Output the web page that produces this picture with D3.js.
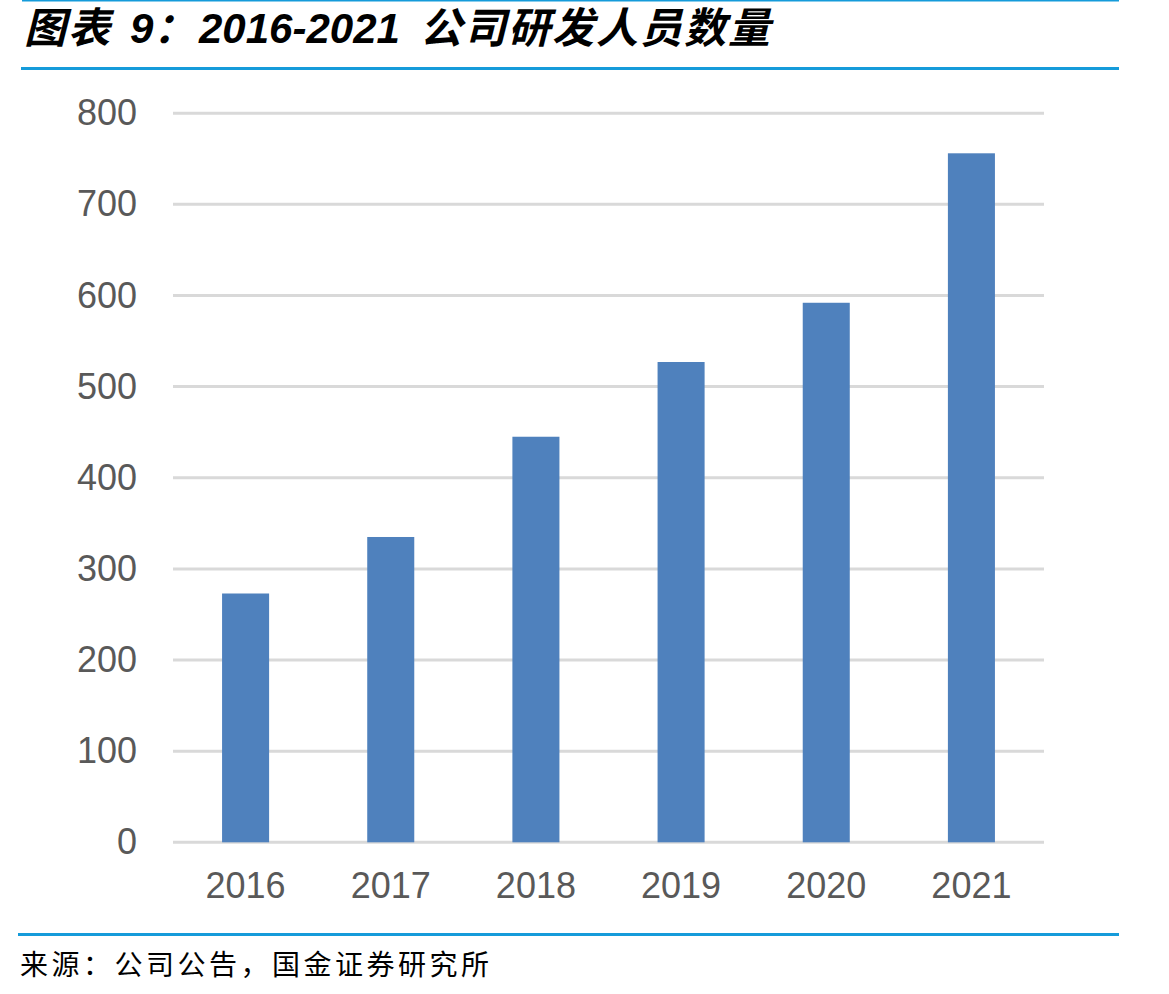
<!DOCTYPE html>
<html>
<head>
<meta charset="utf-8">
<script src="https://cdn.jsdelivr.net/npm/d3@7"></script>
<style>
  body { margin: 0; background: #fff; }
  svg { display: block; }
</style>
</head>
<body>
<div id="chart"></div>
<script>
// chart data
const years = ['2016', '2017', '2018', '2019', '2020', '2021']
const staff = [273, 335, 445, 527, 592, 756]
const yTicks = [0, 100, 200, 300, 400, 500, 600, 700, 800]

const sourceText = '来源：公司公告，国金证券研究所'

const dimensions = {
    width: 1169,
    height: 994,
    left: 173,
    right: 1044,
    top: 113.2,
    bottom: 842.3
}

const svg = d3.select('#chart')
    .append('svg')
    .attr('width', dimensions.width)
    .attr('height', dimensions.height)

// header + footer rules
const blue = '#159BDA'
svg.append('rect').attr('x', 22).attr('y', 0).attr('width', 1097).attr('height', 1.5).attr('fill', blue)
svg.append('rect').attr('x', 21).attr('y', 67).attr('width', 1098).attr('height', 3).attr('fill', blue)
svg.append('rect').attr('x', 18).attr('y', 933).attr('width', 1101).attr('height', 3).attr('fill', blue)

// title, split so the CJK and latin parts sit where the original has them
const title = svg.append('text')
    .attr('y', 43)
    .attr('font-family', '"Liberation Sans", "Noto Sans CJK SC", sans-serif')
    .attr('font-size', 42)
    .attr('font-weight', 'bold')
    .attr('font-style', 'italic')
    .attr('fill', '#000')
title.append('tspan').attr('x', 24).attr('letter-spacing', 2).text('图表')
title.append('tspan').attr('x', 130).text('9：')
title.append('tspan').attr('x', 199).text('2016-2021')
title.append('tspan').attr('x', 420).attr('letter-spacing', 2).text('公司研发人员数量')

svg.append('text')
    .attr('x', 20)
    .attr('y', 975)
    .attr('font-family', '"Noto Sans CJK SC", sans-serif')
    .attr('font-size', 28)
    .attr('letter-spacing', 3.5)
    .attr('fill', '#000')
    .text(sourceText)

// scales
const x = d3.scaleBand()
    .domain(years)
    .range([dimensions.left, dimensions.right])
    .paddingInner(0.676)
    .paddingOuter(0.338)

const y = d3.scaleLinear()
    .domain([0, 800])
    .range([dimensions.bottom, dimensions.top])

// gridlines
svg.append('g')
    .selectAll('line')
    .data(yTicks)
    .join('line')
    .attr('x1', dimensions.left)
    .attr('x2', dimensions.right)
    .attr('y1', d => y(d))
    .attr('y2', d => y(d))
    .attr('stroke', '#D9D9D9')
    .attr('stroke-width', 3)

// y axis labels
const yAxis = svg.append('g')
    .attr('transform', `translate(${dimensions.left - 36},0)`)
    .call(d3.axisLeft(y).tickValues(yTicks).tickSize(0).tickPadding(0))
yAxis.select('.domain').remove()
yAxis.selectAll('text')
    .attr('font-family', '"Liberation Sans", Arial, sans-serif')
    .attr('font-size', 36)
    .attr('fill', '#595959')

// bars
svg.append('g')
    .selectAll('rect')
    .data(staff)
    .join('rect')
    .attr('x', (d, i) => x(years[i]))
    .attr('width', x.bandwidth())
    .attr('y', d => y(d))
    .attr('height', d => y(0) - y(d))
    .attr('fill', '#4F81BD')

// x axis labels
const xAxis = svg.append('g')
    .attr('transform', `translate(0,${dimensions.bottom + 30})`)
    .call(d3.axisBottom(x).tickSize(0).tickPadding(0))
xAxis.select('.domain').remove()
xAxis.selectAll('text')
    .attr('font-family', '"Liberation Sans", Arial, sans-serif')
    .attr('font-size', 36)
    .attr('fill', '#595959')
    .attr('dy', '0.71em')
</script>
</body>
</html>
